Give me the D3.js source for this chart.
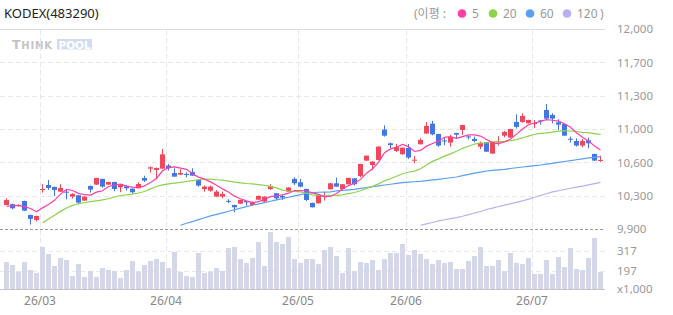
<!DOCTYPE html>
<html><head><meta charset="utf-8">
<script src="https://cdn.jsdelivr.net/npm/d3@7"></script>
<style>
html,body{margin:0;padding:0;background:#fff;}
svg{display:block;font-family:"Noto Sans","Noto Sans CJK KR",sans-serif;}
</style></head><body>
<div id="chart"></div>
<script>
// ---- data ----
const title = "KODEX(483290)";
const opens = [10152,10160,10142,10194,10048,9995,10314,10362,10342,10292,10292,10240,10254,10198,10352,10366,10426,10366,10394,10338,10348,10324,10328,10436,10534,10520,10534,10566,10488,10471,10478,10499,10415,10320,10303,10240,10240,10196,10152,10166,10194,10152,10208,10188,10320,10275,10247,10292,10426,10390,10320,10174,10170,10245,10317,10380,10320,10370,10432,10457,10618,10572,10625,10944,10800,10720,10684,10751,10622,10790,10902,11006,10898,10830,10807,10908,10940,10872,10846,10765,10810,10692,10815,10880,10860,11024,11024,11010,11008,11040,11150,11098,11020,11003,10848,10824,10776,10831,10688,10620];
const highs = [10222,10165,10160,10198,10050,10040,10370,10415,10345,10370,10310,10275,10258,10245,10355,10438,10428,10396,10396,10370,10362,10328,10390,10460,10558,10545,10740,10583,10538,10527,10496,10538,10418,10356,10356,10310,10292,10212,10155,10208,10196,10188,10250,10243,10370,10278,10264,10338,10443,10426,10322,10176,10260,10289,10383,10440,10372,10438,10434,10585,10672,10610,10772,10989,10807,10793,10756,10793,10667,10852,11024,11034,10900,10860,10888,10910,10994,10880,10870,10818,10812,10820,10874,10930,10952,11104,11115,11048,11042,11045,11213,11115,11052,11005,10870,10852,10846,10860,10690,10670];
const lows = [10150,10107,10135,10090,9946,9978,10282,10310,10247,10290,10212,10219,10160,10195,10282,10364,10335,10362,10296,10286,10303,10272,10325,10394,10492,10422,10530,10513,10448,10468,10443,10458,10345,10292,10292,10238,10222,10170,10076,10163,10146,10142,10205,10185,10310,10205,10205,10290,10362,10338,10194,10126,10168,10198,10315,10343,10318,10368,10356,10443,10615,10520,10622,10870,10748,10709,10682,10636,10590,10788,10900,10884,10765,10779,10765,10846,10888,10842,10810,10740,10710,10690,10776,10863,10858,10954,11017,11008,10958,10996,11052,11010,10940,10878,10807,10765,10758,10748,10616,10604];
const closes = [10205,10118,10152,10093,10006,10037,10320,10331,10310,10331,10282,10268,10177,10240,10314,10436,10345,10394,10320,10366,10328,10286,10373,10408,10548,10541,10684,10538,10450,10488,10471,10460,10356,10345,10345,10292,10268,10192,10128,10205,10180,10180,10247,10240,10352,10222,10230,10335,10380,10345,10205,10128,10258,10250,10380,10345,10370,10436,10370,10583,10670,10608,10765,10880,10782,10758,10754,10650,10628,10835,10982,10894,10776,10826,10866,10891,10992,10868,10824,10804,10712,10818,10820,10919,10950,10972,11087,11045,11012,11036,11059,11059,10996,10880,10844,10776,10824,10800,10618,10625];
const volumes = [251,233,193,251,203,185,341,299,227,275,263,167,239,161,197,161,215,203,197,155,203,257,193,233,257,269,251,215,311,191,167,161,305,185,193,215,197,335,341,269,245,275,371,227,431,371,359,401,269,245,269,269,239,323,341,287,185,335,197,251,245,263,203,269,305,305,359,293,323,299,269,239,263,245,251,209,209,257,287,341,227,227,263,197,305,245,239,275,179,179,263,179,281,221,335,209,203,275,395,191];
const ma5 = [10140,10142,10148,10135,10115,10081,10122,10157,10201,10266,10315,10304,10274,10260,10256,10287,10302,10346,10362,10372,10351,10339,10335,10352,10389,10431,10511,10544,10552,10540,10526,10481,10445,10424,10395,10360,10321,10288,10245,10217,10195,10177,10188,10210,10240,10248,10258,10276,10304,10302,10299,10279,10263,10237,10244,10272,10321,10356,10380,10421,10486,10533,10599,10701,10741,10759,10788,10765,10714,10725,10770,10798,10823,10863,10869,10851,10870,10889,10888,10876,10840,10805,10796,10815,10844,10896,10950,10995,11013,11030,11048,11042,11032,11006,10968,10911,10864,10825,10772,10729];
const ma20 = [null,null,null,null,null,null,9965,10005,10045,10085,10120,10148,10165,10178,10188,10196,10205,10218,10236,10252,10258,10267,10278,10294,10321,10346,10364,10374,10381,10389,10399,10408,10417,10423,10424,10417,10413,10403,10393,10385,10378,10373,10366,10358,10348,10332,10309,10299,10296,10289,10275,10259,10254,10249,10251,10254,10259,10271,10283,10302,10326,10348,10374,10406,10427,10454,10480,10496,10508,10533,10572,10610,10636,10665,10689,10716,10747,10769,10792,10803,10805,10815,10818,10820,10828,10839,10856,10875,10895,10905,10909,10917,10928,10931,10929,10924,10915,10912,10902,10893];
const ma60 = [null,null,null,null,null,null,null,null,null,null,null,null,null,null,null,null,null,null,null,null,null,null,null,null,null,null,null,null,null,9939,9960,9978,9998,10018,10037,10053,10070,10086,10102,10119,10135,10149,10163,10177,10191,10205,10219,10233,10247,10261,10275,10281,10286,10288,10290,10300,10306,10311,10317,10326,10336,10345,10353,10362,10370,10379,10387,10392,10396,10401,10408,10415,10422,10430,10438,10446,10460,10474,10486,10497,10509,10515,10521,10527,10535,10543,10551,10558,10565,10572,10581,10590,10599,10609,10618,10627,10637,10646,10653,10660];
const ma120 = [null,null,null,null,null,null,null,null,null,null,null,null,null,null,null,null,null,null,null,null,null,null,null,null,null,null,null,null,null,null,null,null,null,null,null,null,null,null,null,null,null,null,null,null,null,null,null,null,null,null,null,null,null,null,null,null,null,null,null,null,null,null,null,null,null,null,null,null,null,9939,9954,9968,9985,9997,10009,10020,10034,10051,10068,10084,10105,10120,10136,10150,10165,10180,10196,10213,10233,10252,10270,10289,10302,10315,10328,10339,10350,10363,10376,10390];
const maPeriods = ["5","20","60","120"];
const priceTicks = [12000,11650,11300,10950,10600,10250,9900];
const priceTickLabels = ["12,000","11,700","11,300","11,000","10,600","10,300","9,900"];
const volumeTicks = [317,197];
const volumeTickLabels = ["317","197"];
const volumeUnit = "x1,000";
const monthStartIndex = [6,27,49,67,88];
const monthLabels = ["26/03","26/04","26/05","26/06","26/07"];

// ---- drawing ----
const W = 673, H = 315;
const UP = "#f2475a", DOWN = "#4275e6";
const maColors = ["#ff3ea5","#8dd24c","#5a9ff2","#b6b0ef"];
const svg = d3.select("#chart").append("svg").attr("width", W).attr("height", H);

const n = closes.length;
const idx = d3.range(n);
const x = d3.scalePoint().domain(idx).range([6.5, 600.5]);
const y = d3.scaleLinear().domain([9900, 12000]).range([229, 29]);
const yv = d3.scaleLinear().domain([89, 439]).range([289, 230.7]);
const px = v => Math.round(v) + 0.5;

// title
svg.append("text").attr("x", 4).attr("y", 18).attr("font-size", 13).attr("fill", "#222").text(title);

// legend
const lg = svg.append("g").attr("font-size", 12).attr("fill", "#999");
lg.append("text").attr("x", 414).attr("y", 18).text("(이평 :");
const legX = [462, 493, 530, 567];
maPeriods.forEach((p, i) => {
  lg.append("circle").attr("cx", legX[i]).attr("cy", 13.5).attr("r", 4.3).attr("fill", maColors[i]);
  lg.append("text").attr("x", legX[i] + 10).attr("y", 18).text(p);
});
lg.append("text").attr("x", 600).attr("y", 18).text(")");

// watermark
const wmg = svg.append("g").attr("font-family", "DejaVu Sans, sans-serif").attr("font-weight", "bold");
wmg.append("text").attr("x", 12).attr("y", 49).attr("fill", "#c4c4c4").attr("font-size", 12.5).attr("letter-spacing", 0.8).text("T")
  .append("tspan").attr("font-size", 10).text("HINK");
wmg.append("rect").attr("x", 57).attr("y", 39).attr("width", 35).attr("height", 10.5).attr("fill", "#d2dcf0");
wmg.append("text").attr("x", 58.5).attr("y", 48.5).attr("fill", "#ffffff").attr("font-size", 10.5).text("POOL");

// horizontal price grid
const grid = svg.append("g");
priceTicks.forEach((v, i) => {
  const yy = px(y(v));
  const l = grid.append("line").attr("x1", 0).attr("x2", 605).attr("y1", yy).attr("y2", yy);
  if (i === 0) l.attr("stroke", "#dedede");
  else if (v === 9900) l.attr("stroke", "#9a9a9a").attr("stroke-dasharray", "3,2");
  else l.attr("stroke", "#e8e8e8").attr("stroke-dasharray", "5,3");
});
// volume grid
volumeTicks.forEach(v => {
  const yy = px(yv(v));
  grid.append("line").attr("x1", 0).attr("x2", 605).attr("y1", yy).attr("y2", yy)
    .attr("stroke", "#e8e8e8").attr("stroke-dasharray", "5,3");
});
// vertical month grid
monthStartIndex.forEach(i => {
  const xx = x(i) - 2;
  grid.append("line").attr("x1", xx).attr("x2", xx).attr("y1", 30).attr("y2", 289)
    .attr("stroke", "#e6e6e6").attr("stroke-dasharray", "5,3");
});

// volume bars
svg.append("g").selectAll("rect").data(idx).join("rect")
  .attr("x", i => x(i) - 2.5).attr("width", 5)
  .attr("y", i => yv(volumes[i])).attr("height", i => 289 - yv(volumes[i]))
  .attr("fill", "#d3d7e8");
// volume baseline
svg.append("line").attr("x1", 0).attr("x2", 605).attr("y1", 289.5).attr("y2", 289.5).attr("stroke", "#c4c4c4");

// candles
const cg = svg.append("g");
const col = i => closes[i] >= opens[i] ? UP : DOWN;
cg.selectAll("line").data(idx).join("line")
  .attr("x1", i => x(i)).attr("x2", i => x(i))
  .attr("y1", i => y(highs[i])).attr("y2", i => y(lows[i]))
  .attr("stroke", col).attr("stroke-width", 1);
cg.selectAll("rect").data(idx).join("rect")
  .attr("x", i => x(i) - 2.5).attr("width", 5)
  .attr("y", i => y(Math.max(opens[i], closes[i])))
  .attr("height", i => Math.max(1, Math.abs(y(opens[i]) - y(closes[i]))))
  .attr("fill", col);

// moving averages
[ma120, ma60, ma20, ma5].forEach((arr, k) => {
  const c = maColors[3 - k];
  const line = d3.line().defined(i => arr[i] != null).x(i => x(i)).y(i => y(arr[i]));
  svg.append("path").attr("d", line(idx)).attr("fill", "none").attr("stroke", c).attr("stroke-width", 1.2);
});

// right price axis
const ay = svg.append("g").attr("transform", "translate(605,0)")
  .call(d3.axisRight(y).tickValues(priceTicks).tickFormat((d, i) => priceTickLabels[i]).tickSize(0).tickPadding(12));
ay.select(".domain").remove();
ay.selectAll("text").attr("font-size", 11.5).attr("fill", "#999").attr("font-family", "Noto Sans, sans-serif");

const av = svg.append("g").attr("transform", "translate(605,0)")
  .call(d3.axisRight(yv).tickValues(volumeTicks).tickFormat((d, i) => volumeTickLabels[i]).tickSize(0).tickPadding(12));
av.select(".domain").remove();
av.selectAll("text").attr("font-size", 11.5).attr("fill", "#999").attr("font-family", "Noto Sans, sans-serif");
svg.append("text").attr("x", 617).attr("y", 293).attr("font-size", 11.5).attr("fill", "#999").text(volumeUnit);

// bottom date axis
const ax = svg.append("g").attr("transform", "translate(-3,292)")
  .call(d3.axisBottom(x).tickValues(monthStartIndex).tickFormat((d, i) => monthLabels[i]).tickSize(0).tickPadding(4));
ax.select(".domain").remove();
ax.selectAll("text").attr("font-size", 12).attr("fill", "#888").attr("font-family", "Noto Sans, sans-serif");
</script>
</body></html>
